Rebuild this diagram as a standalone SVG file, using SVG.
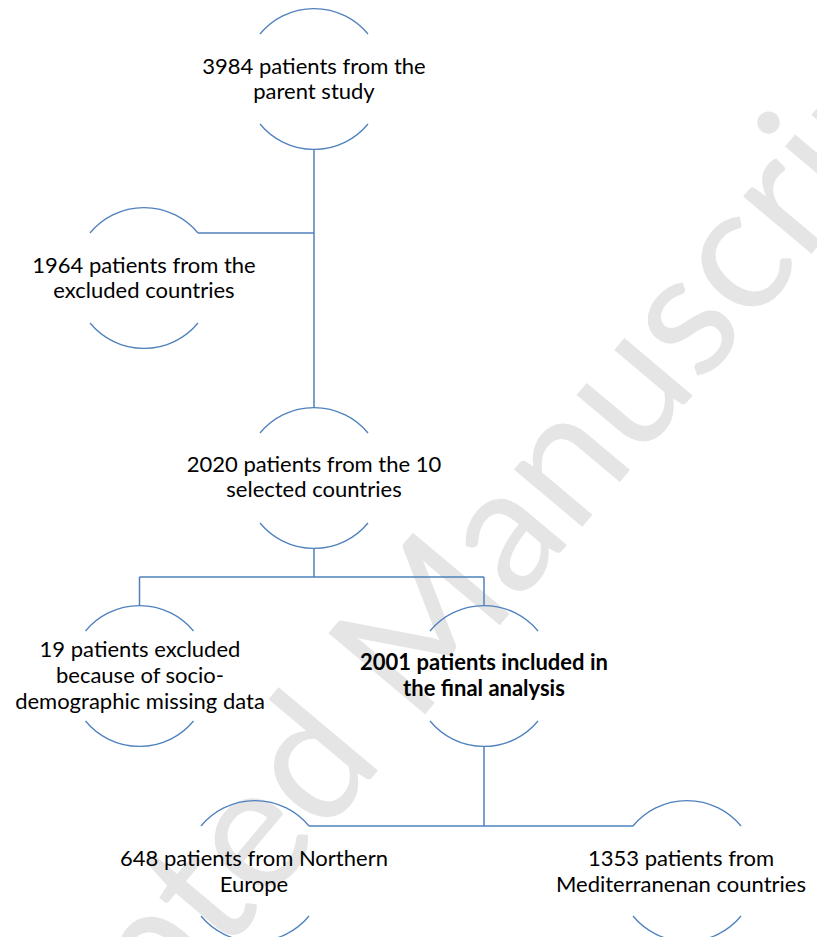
<svg xmlns="http://www.w3.org/2000/svg" width="817" height="937" viewBox="0 0 817 937">
<style>
.arc{fill:none;stroke:#4f81bd;stroke-width:1.3}
.conn{fill:none;stroke:#4f81bd;stroke-width:1.5}
.t{font-family:Lato,"Liberation Sans",sans-serif;font-size:22px;fill:#000;text-anchor:middle}
.b{font-weight:bold}
.wm{font-family:Lato,"Liberation Sans",sans-serif;font-size:176px;fill:#e5e5e5;text-anchor:middle}
</style>
<rect width="817" height="937" fill="#fff"/>
<text class="wm" x="447" y="688" transform="rotate(-50 447 688)">Accepted Manuscript</text>
<g id="connectors">
<path class="conn" d="M314 149V408"/>
<path class="conn" d="M198 233H314"/>
<path class="conn" d="M314 548V577M139.5 577H484M139.5 577V606M484 577V606"/>
<path class="conn" d="M484 746V826M309 826H633"/>
</g>
<g id="n1">
<path class="arc" d="M260 34A70 70 0 0 1 368 34M260 124A70 70 0 0 0 368 124"/>
<text class="t" x="314" y="74">3984 patients from the</text>
<text class="t" x="314" y="99">parent study</text>
</g>
<g id="n2">
<path class="arc" d="M90 233A70 70 0 0 1 198 233M90 323A70 70 0 0 0 198 323"/>
<text class="t" x="144" y="273">1964 patients from the</text>
<text class="t" x="144" y="298">excluded countries</text>
</g>
<g id="n3">
<path class="arc" d="M260 433A70 70 0 0 1 368 433M260 523A70 70 0 0 0 368 523"/>
<text class="t" x="314" y="472">2020 patients from the 10</text>
<text class="t" x="314" y="497">selected countries</text>
</g>
<g id="n4">
<path class="arc" d="M85.5 631A70 70 0 0 1 193.5 631M85.5 721A70 70 0 0 0 193.5 721"/>
<text class="t" x="140" y="657">19 patients excluded</text>
<text class="t" x="140" y="683">because of socio-</text>
<text class="t" x="140" y="709">demographic missing data</text>
</g>
<g id="n5">
<path class="arc" d="M430 631A70 70 0 0 1 538 631M430 721A70 70 0 0 0 538 721"/>
<text class="t b" x="484" y="670">2001 patients included in</text>
<text class="t b" x="484" y="696">the final analysis</text>
</g>
<g id="n6">
<path class="arc" d="M201 826A70 70 0 0 1 309 826M201 916A70 70 0 0 0 309 916"/>
<text class="t" x="254" y="866">648 patients from Northern</text>
<text class="t" x="254" y="892">Europe</text>
</g>
<g id="n7">
<path class="arc" d="M633 826A70 70 0 0 1 741 826M633 916A70 70 0 0 0 741 916"/>
<text class="t" x="681" y="866">1353 patients from</text>
<text class="t" x="681" y="892">Mediterranenan countries</text>
</g>
</svg>
